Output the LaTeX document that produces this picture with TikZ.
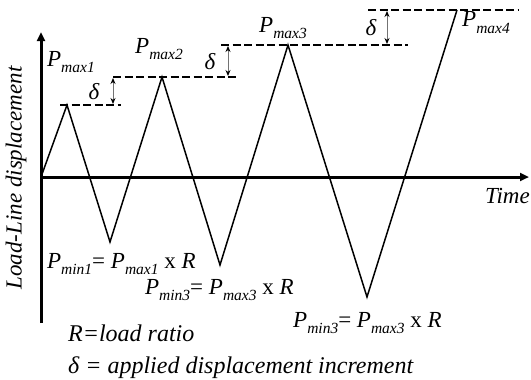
\documentclass[tikz,border=0pt]{standalone}
\usepackage{fontspec}
\setmainfont{Liberation Serif}
\usetikzlibrary{arrows.meta}
\newcommand{\mysb}[1]{\raisebox{-0.3em}{\fontsize{15.5}{16}\selectfont\itshape #1}}
\begin{document}
\begin{tikzpicture}[x=1pt,y=-1pt,
  axisline/.style={line width=3pt,-{Triangle[length=9pt,width=8pt]}},
  wave/.style={line width=1.5pt,line join=miter},
  lvl/.style={line width=2.8pt,dash pattern=on 8pt off 3.5pt},
  incr/.style={line width=0.9pt,draw=black!55,{Stealth[length=6pt,width=5pt,black]}-{Stealth[length=6pt,width=5pt,black]}},
  lab/.style={font=\fontsize{23}{27}\selectfont\itshape,inner sep=0pt},
  big/.style={font=\fontsize{24}{28}\selectfont\itshape,inner sep=0pt}]
\useasboundingbox (0,0) rectangle (531,380);
% axes
\coordinate (ybot) at (41,323);
\coordinate (ytop) at (41,32);
\coordinate (orig) at (41,177);
\coordinate (xend) at (529,177);
\draw[axisline] (ybot) -- (ytop);
\draw[axisline] (orig) -- (xend);
% wave
\coordinate (p1) at (67,105);
\coordinate (t1) at (110,242);
\coordinate (p2) at (162,77);
\coordinate (t2) at (220,265);
\coordinate (p3) at (288,45);
\coordinate (t3) at (367,297);
\coordinate (p4) at (457,10);
\draw[wave] (orig) -- (p1) -- (t1) -- (p2) -- (t2) -- (p3) -- (t3) -- (p4);
% levels
\coordinate (l1a) at (60,105);  \coordinate (l1b) at (121,105);
\coordinate (l2a) at (113,77);  \coordinate (l2b) at (238,77);
\coordinate (l3a) at (221,45);  \coordinate (l3b) at (408,45);
\coordinate (l4a) at (368,10);  \coordinate (l4b) at (518,10);
\draw[lvl] (l1a) -- (l1b);
\draw[lvl] (l2a) -- (l2b);
\draw[lvl] (l3a) -- (l3b);
\draw[lvl] (l4a) -- (l4b);
% increments
\coordinate (d1a) at (113,104); \coordinate (d1b) at (113,78);
\coordinate (d2a) at (228,76);  \coordinate (d2b) at (228,46);
\coordinate (d3a) at (387,44);  \coordinate (d3b) at (387,11);
\draw[incr] (d1a) -- (d1b);
\draw[incr] (d2a) -- (d2b);
\draw[incr] (d3a) -- (d3b);
\node[lab] (dl1) at (94,92) {δ};
\node[lab] (dl2) at (210,62) {δ};
\node[lab] (dl3) at (371,28) {δ};
% peak labels
\node[lab,anchor=base west] (pm1) at (47,66) {P\mysb{max1}};
\node[lab,anchor=base west] (pm2) at (135,53) {P\mysb{max2}};
\node[lab,anchor=base west] (pm3) at (259,32) {P\mysb{max3}};
\node[lab,anchor=base west] (pm4) at (462,27) {P\mysb{max4}};
% trough labels
\node[lab,anchor=base west] (q1) at (47,268) {P\mysb{min1}\upshape= \itshape P\mysb{max1} \upshape x \itshape R};
\node[lab,anchor=base west] (q2) at (145,294) {P\mysb{min3}\upshape= \itshape P\mysb{max3} \upshape x \itshape R};
\node[lab,anchor=base west] (q3) at (293,327) {P\mysb{min3}\upshape= \itshape P\mysb{max3} \upshape x \itshape R};
% axis labels
\node[lab,anchor=base east] (time) at (530,203) {Time};
\node[lab,rotate=90] (ylab) at (16,178) {Load-Line displacement};
% legend
\node[big,anchor=base west] (leg1) at (68,341) {R=load ratio};
\node[big,anchor=base west] (leg2) at (68,373) {δ = applied displacement increment};
\end{tikzpicture}
\end{document}
